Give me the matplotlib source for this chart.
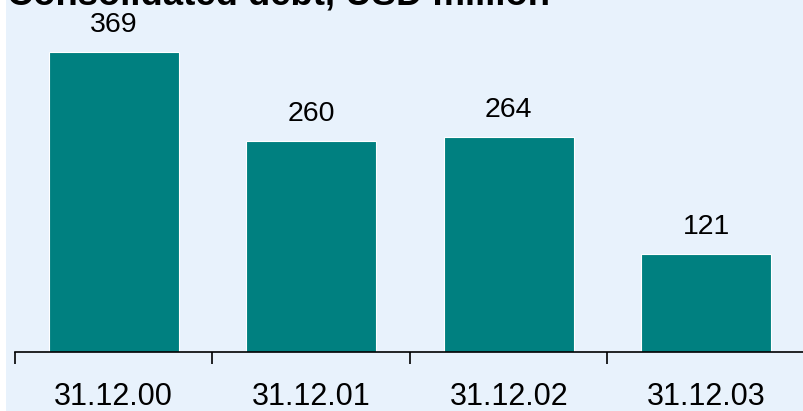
import matplotlib
matplotlib.use("Agg")
import matplotlib.pyplot as plt
from matplotlib.patches import Rectangle
import numpy as np

# Consolidated debt by year end
dates = ["31.12.00", "31.12.01", "31.12.02", "31.12.03"]
debt = [369, 260, 264, 121]
title = "Consolidated debt, USD million"

bg = "#E8F2FC"
bar_color = "#008080"

plt.rcParams["font.family"] = ["Liberation Sans", "DejaVu Sans"]

W, H, DPI = 804, 411, 100
fig = plt.figure(figsize=(W / DPI, H / DPI), dpi=DPI, facecolor="white")
fig.patches.append(Rectangle((6 / W, 0), 1 - 6 / W, 1, transform=fig.transFigure,
                             facecolor=bg, edgecolor="none", zorder=-10))

ax_left, ax_right = 15 / W, 805 / W
ax_bottom = (H - 352) / H
ax = fig.add_axes([ax_left, ax_bottom, ax_right - ax_left, 1 - ax_bottom])
ax.set_facecolor("none")

x = np.arange(len(dates))
bars = ax.bar(x, debt, width=0.66, color=bar_color, edgecolor="white", linewidth=0.8, zorder=2)

ax.set_xlim(-0.5, len(dates) - 0.5)
ax.set_ylim(0, 433)

for xi, v in zip(x, debt):
    ax.annotate(str(v), xy=(xi, v), xytext=(0, 14.4), textcoords="offset points",
                ha="center", va="baseline", fontsize=20.5, color="black",
                annotation_clip=False)

for side in ("left", "top", "right"):
    ax.spines[side].set_visible(False)
ax.spines["bottom"].set_color("black")
ax.spines["bottom"].set_linewidth(1.2)

ax.set_yticks([])
ax.set_xticks(x)
ax.set_xticklabels(dates, fontsize=22)
ax.tick_params(axis="x", which="major", length=0, pad=21.5, colors="black")
ax.set_xticks(np.arange(-0.5, len(dates), 1.0), minor=True)
ax.tick_params(axis="x", which="minor", length=8.5, width=1.2, color="black", direction="out")

fig.text(7 / W, 1 - 4.5 / H, title, ha="left", va="baseline", fontsize=26.3,
         fontweight="bold", color="black")

fig.savefig("out.png", dpi=DPI, facecolor=fig.get_facecolor())
